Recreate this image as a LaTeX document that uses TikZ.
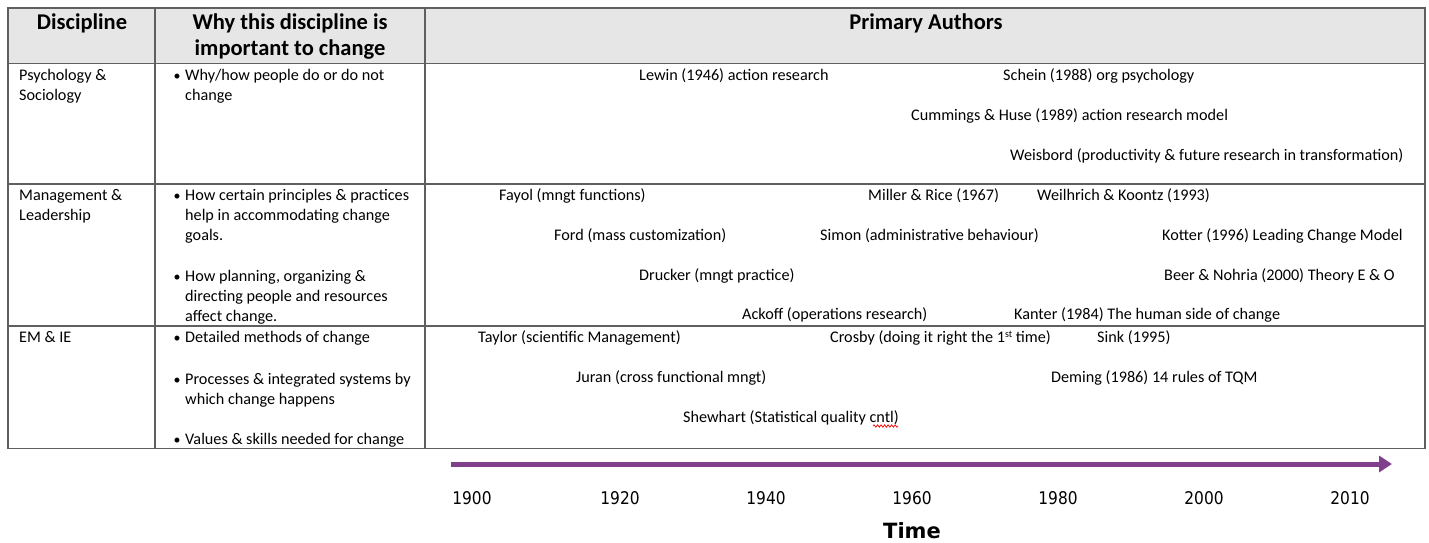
\documentclass[tikz,border=0pt]{standalone}
\usepackage{fontspec}
\setmainfont{Carlito}
\newfontfamily\tlfont[FakeStretch=0.88]{DejaVu Sans}
\newfontfamily\tlbfont{DejaVu Sans}
\usetikzlibrary{arrows.meta,decorations.pathmorphing}
\definecolor{hdrgray}{RGB}{231,230,230}
\definecolor{rulegray}{RGB}{95,95,95}
\definecolor{tlpurple}{RGB}{128,64,140}
\tikzset{
  tablerule/.style={draw=rulegray, line width=1.3pt},
  hdr/.style={font=\fontsize{22.5}{26}\selectfont\bfseries, inner sep=0pt, align=center, anchor=north},
  body/.style={font=\fontsize{16.2}{20.3}\selectfont, inner sep=0pt, anchor=base west},
  cell/.style={font=\fontsize{16.2}{20.3}\selectfont, inner sep=0pt, anchor=north west, align=left},
  bul/.style={font=\fontsize{14}{20.3}\selectfont, inner sep=0pt, anchor=base west},
  year/.style={font=\tlfont\fontsize{17.5}{19}\selectfont, inner sep=0pt, anchor=base},
  timelbl/.style={font=\tlbfont\fontsize{21}{24}\selectfont\bfseries, inner sep=0pt, anchor=base},
  timeline/.style={draw=tlpurple, line width=5pt, -{Triangle[length=13pt,width=16pt]}},
}
\begin{document}
\begin{tikzpicture}[x=1pt,y=-1pt]
\useasboundingbox (0,0) rectangle (1429,542);
% table
\fill[hdrgray] (8,8) rectangle (1425,63.5);
\draw[tablerule] (8,8) rectangle (1425,448.5);
\draw[tablerule] (8,63.5) -- (1425,63.5);
\draw[tablerule] (8,184) -- (1425,184);
\draw[tablerule] (8,326) -- (1425,326);
\draw[tablerule] (155,8) -- (155,448.5);
\draw[tablerule] (425,8) -- (425,448.5);
% header
\node[hdr] (h1) at (82,10.8) {\strut Discipline};
\node[hdr] (h2) at (290,10.8) {\strut Why this discipline is\\important to change};
\node[hdr] (h3) at (926,10.8) {\strut Primary Authors};
% discipline column
\node[cell] (d1) at (19,65.8) {\strut Psychology \&\\Sociology};
\node[cell] (d2) at (19,185.8) {\strut Management \&\\Leadership};
\node[cell] (d3) at (19,327.8) {\strut EM \& IE};
% why column
\node[bul] (b1) at (173.5,80) {\textbullet};
\node[cell] (w1) at (185,65.8) {\strut Why/how people do or do not\\change};
\node[bul] (b2) at (173.5,200) {\textbullet};
\node[cell] (w2) at (185,185.8) {\strut How certain principles \& practices\\help in accommodating change\\goals.};
\node[bul] (b3) at (173.5,281) {\textbullet};
\node[cell] (w3) at (185,266.8) {\strut How planning, organizing \&\\directing people and resources\\affect change.};
\node[bul] (b4) at (173.5,342) {\textbullet};
\node[cell] (w4) at (185,327.8) {\strut Detailed methods of change};
\node[bul] (b5) at (173.5,384) {\textbullet};
\node[cell] (w5) at (185,369.8) {\strut Processes \& integrated systems by\\which change happens};
\node[bul] (b6) at (173.5,444) {\textbullet};
\node[cell] (w6) at (185,429.8) {\strut Values \& skills needed for change};
% authors
\node[body] (lewin) at (639,80) {Lewin (1946) action research};
\node[body] (schein) at (1003,80) {Schein (1988) org psychology};
\node[body] (cummings) at (911,120) {Cummings \& Huse (1989) action research model};
\node[body] (weisbord) at (1010,160) {Weisbord (productivity \& future research in transformation)};
\node[body] (fayol) at (499,200) {Fayol (mngt functions)};
\node[body] (miller) at (868,200) {Miller \& Rice (1967)};
\node[body] (weilhrich) at (1037,200) {Weilhrich \& Koontz (1993)};
\node[body] (ford) at (554,240) {Ford (mass customization)};
\node[body] (simon) at (820,240) {Simon (administrative behaviour)};
\node[body] (kotter) at (1162,240) {Kotter (1996) Leading Change Model};
\node[body] (drucker) at (639,280) {Drucker (mngt practice)};
\node[body] (beer) at (1164,280) {Beer \& Nohria (2000) Theory E \& O};
\node[body] (ackoff) at (742,319) {Ackoff (operations research)};
\node[body] (kanter) at (1014,319) {Kanter (1984) The human side of change};
\node[body] (taylor) at (478,342) {Taylor (scientific Management)};
\node[body] (crosby) at (830,342) {Crosby (doing it right the 1\raisebox{0.55ex}{\fontsize{10}{12}\selectfont st} time)};
\node[body] (sink) at (1097,342) {Sink (1995)};
\node[body] (juran) at (576,382) {Juran (cross functional mngt)};
\node[body] (deming) at (1051,382) {Deming (1986) 14 rules of TQM};
\node[body] (shewhart) at (683,422) {Shewhart (Statistical quality cntl)};
\draw[red, line width=0.7pt, decorate, decoration={snake, amplitude=1.2pt, segment length=3.5pt}] (873,426) -- (898,426);
% timeline
\coordinate (tl0) at (451,464);
\coordinate (tl1) at (1392,464);
\draw[timeline] (tl0) -- (tl1);
\node[year] (y1900) at (472,504) {1900};
\node[year] (y1920) at (620,504) {1920};
\node[year] (y1940) at (766,504) {1940};
\node[year] (y1960) at (912,504) {1960};
\node[year] (y1980) at (1058,504) {1980};
\node[year] (y2000) at (1204,504) {2000};
\node[year] (y2010) at (1350,504) {2010};
\node[timelbl] (time) at (912,538.5) {Time};
\end{tikzpicture}
\end{document}
